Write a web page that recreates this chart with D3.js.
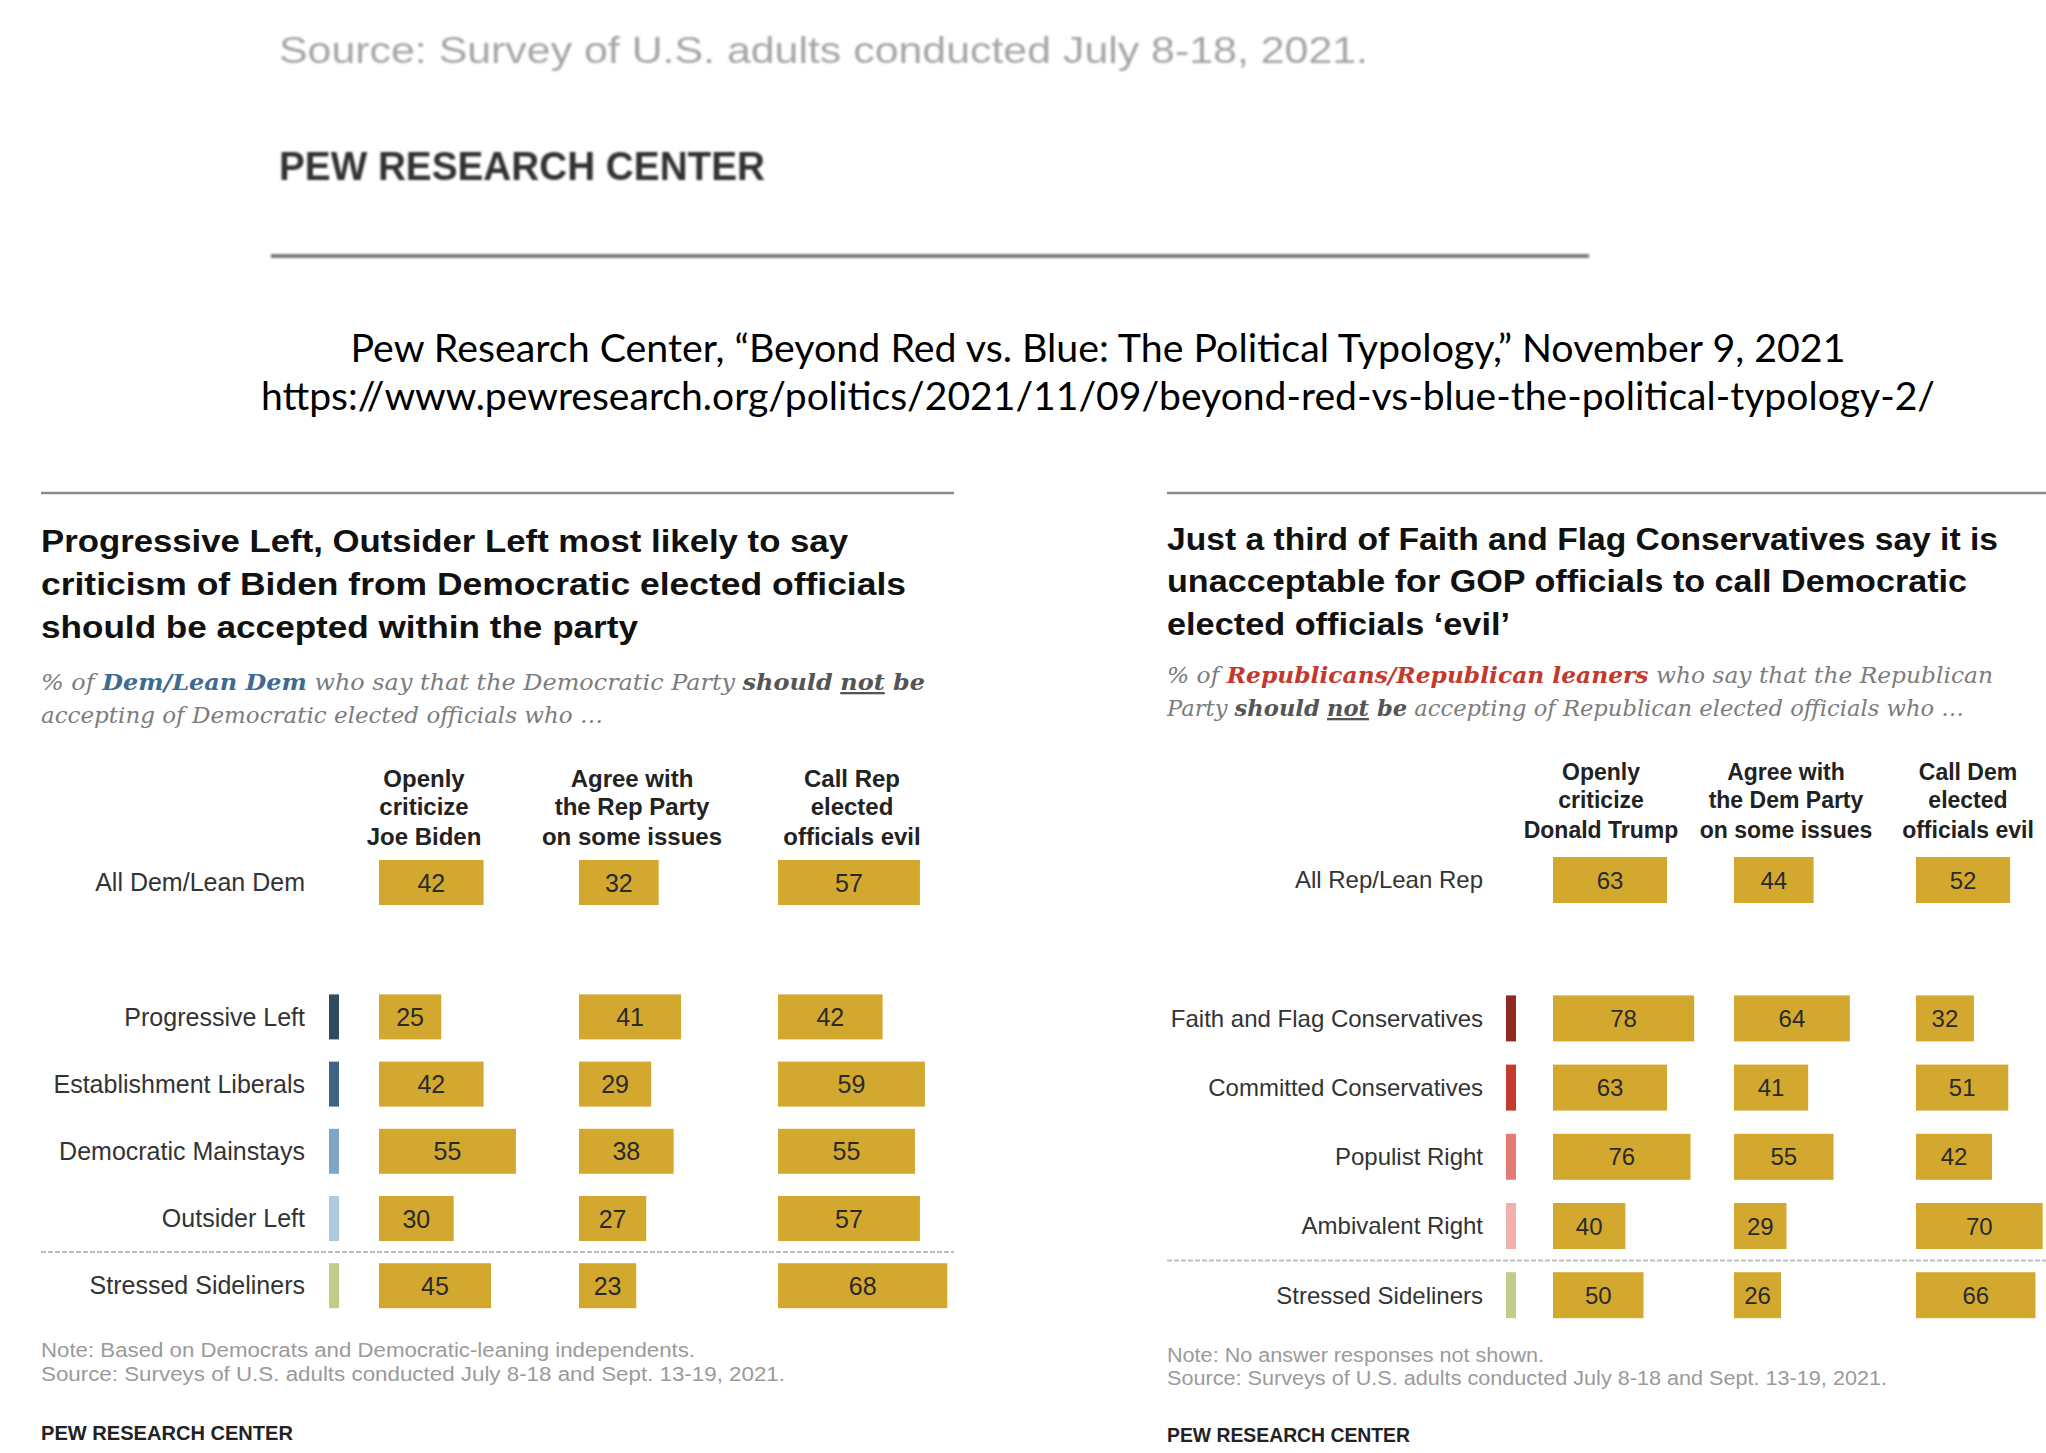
<!DOCTYPE html>
<html>
<head>
<meta charset="utf-8">
<script src="https://cdn.jsdelivr.net/npm/d3@7"></script>
<style>
  html, body { margin: 0; padding: 0; background: #fff; }
  svg { display: block; }
</style>
</head>
<body>
<svg id="chart" width="2046" height="1453"></svg>
<script>
// ---- Democratic panel data ----
const demGroups = ["All Dem/Lean Dem", "Progressive Left", "Establishment Liberals", "Democratic Mainstays", "Outsider Left", "Stressed Sideliners"];
const demCriticize = [42, 25, 42, 55, 30, 45];
const demAgree = [32, 41, 29, 38, 27, 23];
const demEvil = [57, 42, 59, 55, 57, 68];
const demHeaders = [["Openly", "criticize", "Joe Biden"], ["Agree with", "the Rep Party", "on some issues"], ["Call Rep", "elected", "officials evil"]];
const demSwatches = [null, "#2f4b5f", "#3f6483", "#80a6c5", "#aec8dc", "#c3cb8b"];

// ---- Republican panel data ----
const repGroups = ["All Rep/Lean Rep", "Faith and Flag Conservatives", "Committed Conservatives", "Populist Right", "Ambivalent Right", "Stressed Sideliners"];
const repCriticize = [63, 78, 63, 76, 40, 50];
const repAgree = [44, 64, 41, 55, 29, 26];
const repEvil = [52, 32, 51, 42, 70, 66];
const repHeaders = [["Openly", "criticize", "Donald Trump"], ["Agree with", "the Dem Party", "on some issues"], ["Call Dem", "elected", "officials evil"]];
const repSwatches = [null, "#8e2a21", "#c43a2e", "#e57c72", "#f2b0ab", "#c3cb8b"];

const GOLD = "#d3a82f";
const SANS = "'Liberation Sans', Arial, sans-serif";
const NARROW = "'Liberation Sans Narrow', 'Liberation Sans', Arial, sans-serif";
const SERIF = "'DejaVu Serif', Georgia, 'Liberation Serif', serif";

const svg = d3.select("#chart");

// soft filter for the pasted header strip
const defs = svg.append("defs");
defs.append("filter").attr("id", "soft")
  .append("feGaussianBlur").attr("stdDeviation", 0.8);

// ---- top strip: previous figure footer ----
const headerStrip = svg.append("g").attr("filter", "url(#soft)");
headerStrip.append("text")
  .attr("x", 279).attr("y", 63)
  .attr("textLength", 1089).attr("lengthAdjust", "spacingAndGlyphs")
  .style("font-family", NARROW).style("font-size", "37px").style("fill", "#a6a6a6")
  .text("Source: Survey of U.S. adults conducted July 8-18, 2021.");
headerStrip.append("text")
  .attr("x", 279).attr("y", 180)
  .attr("textLength", 486).attr("lengthAdjust", "spacingAndGlyphs")
  .style("font-family", NARROW).style("font-weight", "bold").style("font-size", "41px").style("fill", "#333")
  .text("PEW RESEARCH CENTER");
headerStrip.append("line")
  .attr("x1", 271).attr("x2", 1589).attr("y1", 256).attr("y2", 256)
  .style("stroke", "#7a7a7a").style("stroke-width", 4);

// ---- citation ----
svg.append("text")
  .attr("x", 1098).attr("y", 362).attr("text-anchor", "middle")
  .attr("textLength", 1495).attr("lengthAdjust", "spacingAndGlyphs")
  .style("font-family", "Lato, 'Open Sans', sans-serif").style("font-size", "38px").style("fill", "#000")
  .text("Pew Research Center, \u201CBeyond Red vs. Blue: The Political Typology,\u201D November 9, 2021");
svg.append("text")
  .attr("x", 1098).attr("y", 410).attr("text-anchor", "middle")
  .attr("textLength", 1674).attr("lengthAdjust", "spacingAndGlyphs")
  .style("font-family", "Lato, 'Open Sans', sans-serif").style("font-size", "38px").style("fill", "#000")
  .text("https://www.pewresearch.org/politics/2021/11/09/beyond-red-vs-blue-the-political-typology-2/");

// ---- panel renderer ----
function drawPanel(cfg) {
  const g = svg.append("g");

  g.append("line")
    .attr("x1", cfg.left).attr("x2", cfg.ruleEnd).attr("y1", 493).attr("y2", 493)
    .style("stroke", "#8a8a8a").style("stroke-width", 2.5);

  // title
  cfg.title.forEach((line, i) => {
    g.append("text")
      .attr("x", cfg.left).attr("y", cfg.titleY[i])
      .attr("textLength", cfg.titleW[i]).attr("lengthAdjust", "spacingAndGlyphs")
      .style("font-family", NARROW).style("font-weight", "bold").style("font-size", "32px").style("fill", "#111")
      .text(line);
  });

  // subtitle (mixed styles)
  cfg.subtitle.forEach((parts, i) => {
    const t = g.append("text")
      .attr("x", cfg.left).attr("y", cfg.subY[i])
      .attr("textLength", cfg.subW[i]).attr("lengthAdjust", "spacingAndGlyphs")
      .style("font-family", SERIF).style("font-style", "italic").style("font-size", "23px").style("fill", "#7c7c7c");
    parts.forEach(p => {
      const s = t.append("tspan").text(p.t);
      if (p.b) s.style("font-weight", "bold").style("fill", p.c || "#555");
      if (p.u) s.style("text-decoration", "underline");
    });
  });

  // scales
  const rowKeys = [cfg.groups[0], "__gap", ...cfg.groups.slice(1)];
  const y = d3.scalePoint().domain(rowKeys).range([cfg.firstRow, cfg.firstRow + 6 * cfg.rowStep]);
  const x = d3.scaleLinear().domain([0, 100]).range([0, cfg.unit * 100]);
  const col = d3.scaleOrdinal().domain([0, 1, 2]).range(cfg.colStart);

  // column headers
  cfg.headers.forEach((lines, c) => {
    lines.forEach((ln, k) => {
      g.append("text")
        .attr("x", cfg.headCenter[c]).attr("y", cfg.headY[k]).attr("text-anchor", "middle")
        .style("font-family", SANS).style("font-weight", "bold").style("font-size", cfg.headSize + "px").style("fill", "#222")
        .text(ln);
    });
  });

  const rows = cfg.groups.map((name, i) => ({ name, i, vals: cfg.series.map(s => s[i]), sw: cfg.swatches[i] }));

  // row labels
  g.selectAll(".lab").data(rows).join("text")
    .attr("x", cfg.labelX).attr("y", d => y(d.name)).attr("dy", "0.35em").attr("text-anchor", "end")
    .style("font-family", SANS).style("font-size", cfg.labSize + "px").style("fill", "#333")
    .text(d => d.name);

  // typology swatches
  g.selectAll(".sw").data(rows.filter(d => d.sw)).join("rect")
    .attr("x", cfg.swX).attr("width", 10)
    .attr("y", d => y(d.name) - cfg.barH / 2).attr("height", cfg.barH)
    .style("fill", d => d.sw);

  // bars + values
  const cells = rows.flatMap(r => r.vals.map((v, c) => ({ name: r.name, c, v })));
  g.selectAll(".bar").data(cells).join("rect")
    .attr("x", d => col(d.c)).attr("y", d => y(d.name) - cfg.barH / 2)
    .attr("width", d => x(d.v)).attr("height", cfg.barH)
    .style("fill", GOLD);
  g.selectAll(".val").data(cells).join("text")
    .attr("x", d => col(d.c) + x(d.v) / 2).attr("y", d => y(d.name)).attr("dy", "0.36em")
    .attr("text-anchor", "middle")
    .style("font-family", SANS).style("font-size", cfg.labSize + "px").style("fill", "#2a2a2a")
    .text(d => d.v);

  // dashed separator before Stressed Sideliners
  const sepY = (y(cfg.groups[4]) + y(cfg.groups[5])) / 2;
  g.append("line")
    .attr("x1", cfg.left).attr("x2", cfg.ruleEnd).attr("y1", sepY).attr("y2", sepY)
    .style("stroke", "#bdbdbd").style("stroke-width", 2).style("stroke-dasharray", "5,2");

  // notes
  cfg.notes.forEach((n, i) => {
    g.append("text")
      .attr("x", cfg.left).attr("y", cfg.noteY[i])
      .attr("textLength", cfg.noteW[i]).attr("lengthAdjust", "spacingAndGlyphs")
      .style("font-family", NARROW).style("font-size", "20px").style("fill", "#9a9a9a")
      .text(n);
  });
  g.append("text")
    .attr("x", cfg.left).attr("y", cfg.pewY)
    .attr("textLength", cfg.pewW).attr("lengthAdjust", "spacingAndGlyphs")
    .style("font-family", NARROW).style("font-weight", "bold").style("font-size", "20px").style("fill", "#222")
    .text("PEW RESEARCH CENTER");
}

drawPanel({
  left: 41, ruleEnd: 954,
  title: ["Progressive Left, Outsider Left most likely to say",
          "criticism of Biden from Democratic elected officials",
          "should be accepted within the party"],
  titleY: [552, 595, 638], titleW: [807, 865, 597],
  subtitle: [
    [{ t: "% of " }, { t: "Dem/Lean Dem", b: true, c: "#3d6b91" }, { t: " who say that the Democratic Party " },
     { t: "should", b: true }, { t: " " }, { t: "not", b: true, u: true }, { t: " be", b: true }],
    [{ t: "accepting of Democratic elected officials who \u2026" }]
  ],
  subY: [690, 723], subW: [884, 562],
  groups: demGroups, series: [demCriticize, demAgree, demEvil], swatches: demSwatches,
  headers: demHeaders, headCenter: [424, 632, 852], headY: [787, 815, 845], headSize: 24,
  firstRow: 882.5, rowStep: 67.2, barH: 45, unit: 2.49,
  colStart: [379, 579, 778], labelX: 305, swX: 329, labSize: 25,
  notes: ["Note: Based on Democrats and Democratic-leaning independents.",
          "Source: Surveys of U.S. adults conducted July 8-18 and Sept. 13-19, 2021."],
  noteY: [1357, 1381], noteW: [654, 744], pewY: 1440, pewW: 252
});

drawPanel({
  left: 1167, ruleEnd: 2046,
  title: ["Just a third of Faith and Flag Conservatives say it is",
          "unacceptable for GOP officials to call Democratic",
          "elected officials \u2018evil\u2019"],
  titleY: [550, 592, 635], titleW: [831, 800, 343],
  subtitle: [
    [{ t: "% of " }, { t: "Republicans/Republican leaners", b: true, c: "#c4392d" }, { t: " who say that the Republican" }],
    [{ t: "Party " }, { t: "should", b: true }, { t: " " }, { t: "not", b: true, u: true }, { t: " be", b: true },
     { t: " accepting of Republican elected officials who \u2026" }]
  ],
  subY: [683, 716], subW: [826, 797],
  groups: repGroups, series: [repCriticize, repAgree, repEvil], swatches: repSwatches,
  headers: repHeaders, headCenter: [1601, 1786, 1968], headY: [780, 808, 838], headSize: 23,
  firstRow: 880, rowStep: 69.2, barH: 46, unit: 1.81,
  colStart: [1553, 1734, 1916], labelX: 1483, swX: 1506, labSize: 24,
  notes: ["Note: No answer responses not shown.",
          "Source: Surveys of U.S. adults conducted July 8-18 and Sept. 13-19, 2021."],
  noteY: [1362, 1385], noteW: [377, 720], pewY: 1442, pewW: 243
});
</script>
</body>
</html>
